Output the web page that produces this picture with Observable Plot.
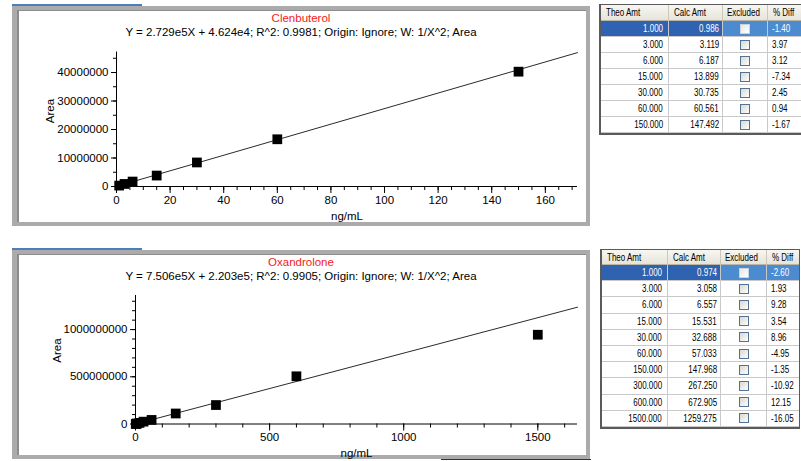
<!DOCTYPE html>
<html><head><meta charset="utf-8">
<script src="https://cdn.jsdelivr.net/npm/d3@7"></script>
<script src="https://cdn.jsdelivr.net/npm/@observablehq/plot@0.6"></script>
<style>
html,body{margin:0;padding:0;background:#fff;}
body{width:801px;height:461px;overflow:hidden;position:relative;font-family:Arial,"Liberation Sans",sans-serif;}
.abs{position:absolute;box-sizing:border-box;}
.ttl{position:absolute;left:12px;width:578px;text-align:center;font-size:11.5px;line-height:14px;white-space:nowrap;}
.cell{position:absolute;box-sizing:border-box;display:flex;align-items:center;font-size:10px;border-right:1px solid #c9c9c9;border-bottom:1px solid #c9c9c9;white-space:nowrap;overflow:hidden;}
.cell span{display:inline-block;transform:scaleX(0.8);}
.hd{background:linear-gradient(#f7f6f1,#e6e4da);border-right:1px solid #cbc8b8;border-bottom:1px solid #b9b6a6;}
.chk{width:10px;height:10px;box-sizing:border-box;border:1px solid #4f7398;background:linear-gradient(135deg,#d9d9d2,#fdfdfb);}
</style></head><body>
<script>
// ---- data ----
const clenName = "Clenbuterol";
const clenEq = "Y = 2.729e5X + 4.624e4; R^2: 0.9981; Origin: Ignore; W: 1/X^2; Area";
const clenSlope = 2.729e5, clenIntercept = 4.624e4;
const clenTheo = [1, 3, 6, 15, 30, 60, 150];
const clenArea = [315000, 897000, 1735000, 3840000, 8434000, 16573000, 40296000];
const clenCalc = [0.986, 3.119, 6.187, 13.899, 30.735, 60.561, 147.492];
const clenDiff = [-1.40, 3.97, 3.12, -7.34, 2.45, 0.94, -1.67];
const clenXTicks = [0, 20, 40, 60, 80, 100, 120, 140, 160];
const clenYTicks = [0, 10000000, 20000000, 30000000, 40000000];

const oxaName = "Oxandrolone";
const oxaEq = "Y = 7.506e5X + 2.203e5; R^2: 0.9905; Origin: Ignore; W: 1/X^2; Area";
const oxaSlope = 7.506e5, oxaIntercept = 2.203e5;
const oxaTheo = [1, 3, 6, 15, 30, 60, 150, 300, 600, 1500];
const oxaArea = [951000, 2516000, 5142000, 11878000, 24756000, 43030000, 111284000, 200820000, 505300000, 945400000];
const oxaCalc = [0.974, 3.058, 6.557, 15.531, 32.688, 57.033, 147.968, 267.250, 672.905, 1259.275];
const oxaDiff = [-2.60, 1.93, 9.28, 3.54, 8.96, -4.95, -1.35, -10.92, 12.15, -16.05];
const oxaXTicks = [0, 500, 1000, 1500];
const oxaYTicks = [0, 500000000, 1000000000];

const headers = ["Theo Amt", "Calc Amt", "Excluded", "% Diff"];

// ---- helpers ----
const body = document.body;
function box(css){const d=document.createElement("div");d.className="abs";d.style.cssText=css;body.appendChild(d);return d;}

function panel(top, bottom){
  box(`left:12px;top:${top}px;width:130px;height:2px;background:#4a7ebd;`);
  box(`left:12px;top:${top+2}px;width:578px;height:${bottom-top-2}px;border-style:solid;border-color:#ababab;border-width:4px 4px 4px 5px;`);
  box(`left:17px;top:${top+6}px;width:569px;height:${bottom-top-10}px;border-style:solid;border-color:#8c8c8c;border-width:1px 0 0 2px;`);
}

function chart(o){
  const pts = o.theo.map((t,i)=>({x:t, y:o.area[i]}));
  const fit = [0, o.xMax].map(v=>({x:v, y:o.slope*v + o.intercept}));
  const minorX = d3.range(0, o.xMax, o.xStep);
  const minorY = d3.range(0, o.yMax, o.yStep);
  const svg = Plot.plot({
    width:o.w, height:o.h,
    marginLeft:o.mL, marginRight:o.mR, marginTop:o.mT, marginBottom:o.mB,
    style:{background:"transparent", fontFamily:"Arial, 'Liberation Sans', sans-serif", fontSize:"11.5px", color:"#000", overflow:"visible"},
    x:{domain:[0,o.xMax], label:null},
    y:{domain:[0,o.yMax], label:null},
    marks:[
      Plot.axisX({ticks:minorX, tickSize:4, tickFormat:()=> "", label:null}),
      Plot.axisX({ticks:o.xTicks, tickSize:7, tickPadding:2, tickFormat:d3.format("d"), label:null}),
      Plot.axisY({ticks:minorY, tickSize:3, tickFormat:()=> "", label:null}),
      Plot.axisY({ticks:o.yTicks, tickSize:5, tickPadding:3, tickFormat:d3.format("d"), label:null}),
      Plot.ruleX([0], {stroke:"#000"}),
      Plot.ruleY([0], {stroke:"#000"}),
      Plot.line(fit, {x:"x", y:"y", stroke:"#2a2a2a", strokeWidth:1}),
      Plot.dot(pts, {x:"x", y:"y", symbol:"square", r:5.5, fill:"#000", stroke:null}),
      Plot.text(["ng/mL"], {frameAnchor:"bottom", dy:o.labDy, text:d=>d, lineAnchor:"middle"}),
      Plot.text(["Area"], {frameAnchor:"left", dx:o.areaDx, dy:o.areaDy, rotate:-90, text:d=>d, lineAnchor:"middle"})
    ]
  });
  svg.style.position="absolute"; svg.style.left=o.left+"px"; svg.style.top=o.top+"px";
  body.appendChild(svg);
  const t1=document.createElement("div"); t1.className="ttl"; t1.style.top=(o.titleY-7)+"px"; t1.style.color="#f21b1b"; t1.textContent=o.name; body.appendChild(t1);
  const t2=document.createElement("div"); t2.className="ttl"; t2.style.top=(o.subY-7)+"px"; t2.style.color="#000"; t2.textContent=o.eq; body.appendChild(t2);
}

function table(o){
  const c=o.cols;
  // header
  headers.forEach((h,j)=>{
    const d=box(`left:${c[j]}px;top:${o.top}px;width:${c[j+1]-c[j]}px;height:${o.headH}px;padding-left:${[7,5,4,5][j]}px;`);
    d.className="cell hd";
    d.innerHTML=`<span style="transform-origin:left center">${h}</span>`;
  });
  o.theo.forEach((t,i)=>{
    const y=o.top+o.headH+i*o.rowH;
    const sel=i===0;
    const vals=[t.toFixed(3), o.calc[i].toFixed(3), null, o.diff[i].toFixed(2)];
    vals.forEach((v,j)=>{
      const bg = sel ? (j<2?"#2f62b1":"#4c8bd0") : "#fff";
      const d=box(`left:${c[j]}px;top:${y}px;width:${c[j+1]-c[j]}px;height:${o.rowH+ (i===o.theo.length-1?0:0)}px;background:${bg};color:${sel?"#fff":"#000"};`);
      d.className="cell";
      if(j<2){d.style.justifyContent="flex-end";d.style.paddingRight=(j===0?5:3)+"px";d.innerHTML=`<span style="transform-origin:right center">${v}</span>`;}
      else if(j===2){d.style.justifyContent="center";d.innerHTML=`<div class="chk" style="${sel?'border-color:#c8d3e0;background:linear-gradient(135deg,#e8e8e4,#fff);':''}"></div>`;}
      else {d.style.paddingLeft="4px";d.innerHTML=`<span style="transform-origin:left center">${v}</span>`;}
    });
  });
  const h=o.headH+o.theo.length*o.rowH;
  box(`left:${c[0]}px;top:${o.top-1}px;width:${c[4]-c[0]}px;height:${h+3}px;border-style:solid;border-color:#5a5a5a;border-width:1px ${o.rightB}px 2px 2px;pointer-events:none;`);
}

// ---- build ----
panel(4, 226);
panel(248, 459);
box("left:441px;top:459px;width:150px;height:1px;background:#333;");

chart({name:clenName, eq:clenEq, slope:clenSlope, intercept:clenIntercept, theo:clenTheo, area:clenArea,
  xMax:172, yMax:47200000, xStep:5, yStep:5000000, xTicks:clenXTicks, yTicks:clenYTicks,
  left:0, top:0, w:590, h:226, mL:116, mR:13, mT:51.5, mB:40, labDy:30, areaDx:-66, areaDy:4,
  titleY:18.3, subY:32.3});

chart({name:oxaName, eq:oxaEq, slope:oxaSlope, intercept:oxaIntercept, theo:oxaTheo, area:oxaArea,
  xMax:1648, yMax:1361000000, xStep:100, yStep:100000000, xTicks:oxaXTicks, yTicks:oxaYTicks,
  left:0, top:235, w:590, h:226, mL:135, mR:13, mT:60, mB:37.5, labDy:29.5, areaDx:-78, areaDy:3,
  titleY:261.7, subY:276});

table({cols:[599,669,723,768,812], top:5, headH:16, rowH:16, theo:clenTheo, calc:clenCalc, diff:clenDiff, rightB:0});
table({cols:[600,668,721,767,800], top:250, headH:15, rowH:16.2, theo:oxaTheo, calc:oxaCalc, diff:oxaDiff, rightB:1});
</script>
</body></html>
